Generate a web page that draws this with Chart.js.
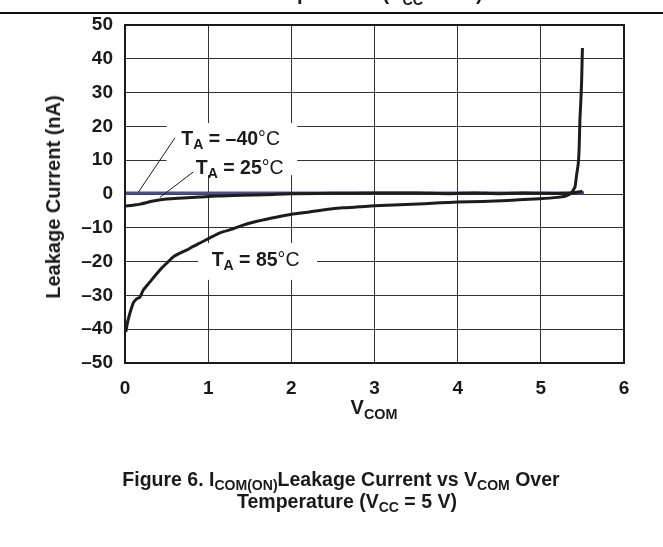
<!DOCTYPE html>
<html><head><meta charset="utf-8">
<script src="https://cdn.jsdelivr.net/npm/chart.js@4/dist/chart.umd.min.js"></script>
<style>
html,body{margin:0;padding:0;background:#fff;}
#wrap{position:relative;width:663px;height:547px;overflow:hidden;font-family:"Liberation Sans",Arial,Helvetica,sans-serif;color:#1a1a1a;}
canvas{position:absolute;left:0;top:0;}
.t{position:absolute;font-weight:bold;white-space:nowrap;line-height:1;}
.t sub{font-size:0.72em;vertical-align:baseline;position:relative;top:0.32em;}
.reg{font-weight:normal;}
.c{transform:translate(-50%,-50%);}
#cut{position:absolute;left:0;top:0;width:663px;height:12px;overflow:hidden;}
#cut .t{left:370px;top:-17px;font-size:20px;transform:translateX(-50%);}
#rule{position:absolute;left:0;top:12px;width:663px;height:2px;background:#111;}
</style></head><body>
<div id="wrap">
<canvas id="c" width="663" height="547"></canvas>
<div id="cut"><div class="t">Temperature (V<sub>CC</sub> = 5 V)</div></div>
<div id="rule"></div>
<div class="t c" id="l40" style="font-size:19.5px">T<sub>A</sub> = –40<span class="reg">°C</span></div>
<div class="t c" id="l25" style="font-size:19.5px">T<sub>A</sub> = 25<span class="reg">°C</span></div>
<div class="t c" id="l85" style="font-size:19.5px">T<sub>A</sub> = 85<span class="reg">°C</span></div>
<div class="t" id="ytitle" style="font-size:20px;left:53px;top:197px;transform:translate(-50%,-50%) rotate(-90deg);">Leakage Current (nA)</div>
<div class="t c" id="xtitle" style="font-size:20px;left:374px;top:407px;">V<sub>COM</sub></div>
<div class="t c" style="font-size:19.5px;left:341px;top:480px;">Figure 6. I<sub>COM(ON)</sub>Leakage Current vs V<sub>COM</sub> Over</div>
<div class="t c" style="font-size:19.5px;left:347px;top:502px;">Temperature (V<sub>CC</sub> = 5 V)</div>
</div>
<script>
// ---- data ----
const xTicks = [0, 1, 2, 3, 4, 5, 6];
const yTicks = [-50, -40, -30, -20, -10, 0, 10, 20, 30, 40, 50];

const vcomM40 = [0, 0.5, 1, 1.5, 2, 2.5, 3, 3.5, 4, 4.5, 5, 5.3, 5.52];
const leakM40 = [0.3, 0.3, 0.3, 0.3, 0.3, 0.3, 0.3, 0.3, 0.3, 0.3, 0.3, 0.3, 0.4];

const vcom25 = [0, 0.1, 0.18, 0.34, 0.5, 0.7, 0.9, 1.1, 1.4, 1.7, 2.0, 2.5, 3.0, 3.5, 3.9, 4.2, 4.5, 4.8, 5.0, 5.3, 5.4, 5.5];
const leak25 = [-3.6, -3.3, -3.0, -2.1, -1.5, -1.2, -0.9, -0.6, -0.4, -0.2, 0.1, 0.2, 0.3, 0.3, 0.1, 0.3, 0.1, 0.3, 0.2, 0.2, 0.4, 0.8];

const vcom85 = [0.01, 0.03, 0.06, 0.1, 0.14, 0.18, 0.22, 0.3, 0.42, 0.5, 0.58, 0.66, 0.74, 0.82, 0.9, 1.02, 1.14, 1.3, 1.42, 1.6, 1.83, 2.0, 2.22, 2.42, 2.62, 2.82, 3.0, 3.3, 3.6, 3.79, 4.0, 4.3, 4.6, 4.99, 5.2, 5.3, 5.35, 5.38, 5.41, 5.43, 5.45, 5.46, 5.47, 5.48, 5.49, 5.5];
const leak85 = [-40.8, -38, -35.2, -32.2, -31, -30.5, -28.4, -26, -22.5, -20.5, -18.6, -17.5, -16.6, -15.5, -14.5, -13, -11.5, -10.3, -9.2, -8, -6.8, -6, -5.3, -4.6, -4.1, -3.8, -3.5, -3.2, -2.9, -2.6, -2.4, -2.2, -1.9, -1.4, -1.0, -0.6, 0, 0.8, 2, 5.6, 9, 13, 22, 27, 33, 43.2];

// ---- annotation geometry (data coordinates) ----
const labelBoxes = [
  {x0: 0.50, x1: 2.07, y0: 21, y1: 5.6},
  {x0: 0.88, x1: 2.31, y0: -14.5, y1: -25.4}
];
const leaderLines = [
  [0.60, 16.6, 0.16, 0.5],
  [0.82, 6.5, 0.42, -1.0]
];
const labelAnchors = {l40: [1.27, 16.3], l25: [1.38, 7.7], l85: [1.57, -19.5]};

const pts = (xs, ys) => xs.map((x, i) => ({x, y: ys[i]}));
const FONT = "'Liberation Sans', Arial, Helvetica, sans-serif";
const INK = '#1a1a1a';

const annot = {
  id: 'annot',
  beforeDatasetsDraw(chart) {
    const {ctx, scales: {x, y}} = chart;
    ctx.save();
    ctx.fillStyle = '#fff';
    labelBoxes.forEach(b => {
      const px0 = x.getPixelForValue(b.x0), px1 = x.getPixelForValue(b.x1);
      const py0 = y.getPixelForValue(b.y0), py1 = y.getPixelForValue(b.y1);
      ctx.fillRect(px0, py0, px1 - px0, py1 - py0);
    });
    ctx.restore();
  },
  afterDatasetsDraw(chart) {
    const {ctx, chartArea: a, scales: {x, y}} = chart;
    ctx.save();
    ctx.strokeStyle = INK;
    ctx.lineWidth = 1;
    leaderLines.forEach(l => {
      ctx.beginPath();
      ctx.moveTo(x.getPixelForValue(l[0]), y.getPixelForValue(l[1]));
      ctx.lineTo(x.getPixelForValue(l[2]), y.getPixelForValue(l[3]));
      ctx.stroke();
    });
    ctx.lineWidth = 2;
    ctx.strokeRect(a.left, a.top, a.right - a.left, a.bottom - a.top);
    ctx.restore();
    for (const id in labelAnchors) {
      const el = document.getElementById(id);
      el.style.left = x.getPixelForValue(labelAnchors[id][0]) + 'px';
      el.style.top = y.getPixelForValue(labelAnchors[id][1]) + 'px';
    }
  }
};

new Chart(document.getElementById('c'), {
  type: 'scatter',
  data: {
    datasets: [
      {label: 'TA = -40°C', data: pts(vcomM40, leakM40), showLine: true, borderColor: '#4e4e88', borderWidth: 3, pointRadius: 0, order: 3, tension: 0},
      {label: 'TA = 25°C', data: pts(vcom25, leak25), showLine: true, borderColor: '#1c1c1c', borderWidth: 3, pointRadius: 0, order: 1, tension: 0.3},
      {label: 'TA = 85°C', data: pts(vcom85, leak85), showLine: true, borderColor: '#1c1c1c', borderWidth: 3, pointRadius: 0, order: 2, tension: 0.2}
    ]
  },
  options: {
    responsive: false,
    animation: false,
    events: [],
    layout: {padding: {left: 0, right: 39, top: 25, bottom: 0}},
    plugins: {legend: {display: false}, tooltip: {enabled: false}},
    scales: {
      x: {
        type: 'linear', min: 0, max: 6,
        afterBuildTicks: s => { s.ticks = xTicks.map(v => ({value: v})); },
        afterFit: s => { s.height = 184; },
        ticks: {color: INK, font: {family: FONT, size: 19, weight: 'bold'}, padding: 14, maxRotation: 0},
        grid: {color: '#333', lineWidth: 1, drawTicks: false},
        border: {display: true, color: INK, width: 2}
      },
      y: {
        type: 'linear', min: -50, max: 50,
        afterBuildTicks: s => { s.ticks = yTicks.map(v => ({value: v})); },
        afterFit: s => { s.width = 125; },
        ticks: {color: INK, font: {family: FONT, size: 19, weight: 'bold'}, padding: 12,
          callback: v => v < 0 ? '–' + Math.abs(v) : String(v)},
        grid: {color: '#333', lineWidth: 1, drawTicks: false},
        border: {display: true, color: INK, width: 2}
      }
    }
  },
  plugins: [annot]
});
</script>
</body></html>
